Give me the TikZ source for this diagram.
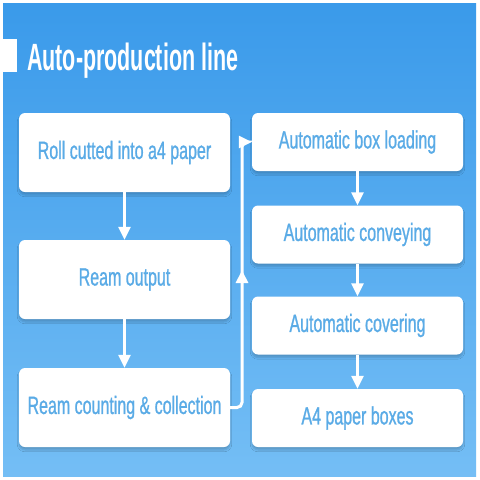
\documentclass[tikz,border=0pt]{standalone}
\usepackage{fontspec}
\newfontfamily\boxfont[FakeStretch=0.64,FakeBold=0.9]{Liberation Sans}
\newfontfamily\titlefont[FakeStretch=0.565]{Liberation Sans Bold}
\usetikzlibrary{arrows.meta,decorations.markings,shadows.blur}
\definecolor{bgtop}{HTML}{3A9AEA}
\definecolor{bgbot}{HTML}{74BEF5}
\definecolor{txtblue}{HTML}{5AABE6}
\tikzset{
  flowbox/.style={draw=none,fill=white,rounded corners=6pt,minimum width=211pt,
    text=txtblue,font=\boxfont\fontsize{25}{25}\selectfont,inner sep=0pt,
    blur shadow={shadow xshift=0pt,shadow yshift=-3pt,shadow blur steps=6,shadow opacity=18}},
  tallbox/.style={flowbox,minimum height=79pt},
  shortbox/.style={flowbox,minimum height=58pt},
  flowarrow/.style={draw=white,line width=3pt,-{Triangle[width=12pt,length=13pt]}},
}
\begin{document}
\begin{tikzpicture}[x=1pt,y=-1pt]
\useasboundingbox (0,0) rectangle (480,480);
\fill[white] (0,0) rectangle (480,480);
\shade[top color=bgtop,bottom color=bgbot] (3,3) rectangle (476,476);
\fill[white] (0,39) rectangle (17,72);
\node[anchor=base west,inner sep=0pt,text=white,font=\titlefont\fontsize{38}{38}\selectfont] (title) at (27,70) {Auto-production line};
\node[tallbox] (b1) at (124.5,152.5) {Roll cutted into a4 paper};
\node[tallbox] (b2) at (124.5,279.5) {Ream output};
\node[tallbox] (b3) at (124.5,407.5) {Ream counting \& collection};
\node[shortbox] (r1) at (357.5,142) {Automatic box loading};
\node[shortbox] (r2) at (357.5,234.5) {Automatic conveying};
\node[shortbox] (r3) at (357.5,325.5) {Automatic covering};
\node[shortbox] (r4) at (357.5,418) {A4 paper boxes};
\draw[flowarrow] (b1) -- (b2);
\draw[flowarrow] (b2) -- (b3);
\draw[flowarrow] (r1) -- (r2);
\draw[flowarrow] (r2) -- (r3);
\draw[flowarrow] (r3) -- (r4);
\coordinate (corner) at (242,142);
\draw[flowarrow,rounded corners=5pt,
  postaction={decorate,decoration={markings,mark=at position 0.52 with {\arrow{Triangle[width=12pt,length=13pt]}}}}]
  (b3.east) -| (corner) -- (r1.west);
\end{tikzpicture}
\end{document}
